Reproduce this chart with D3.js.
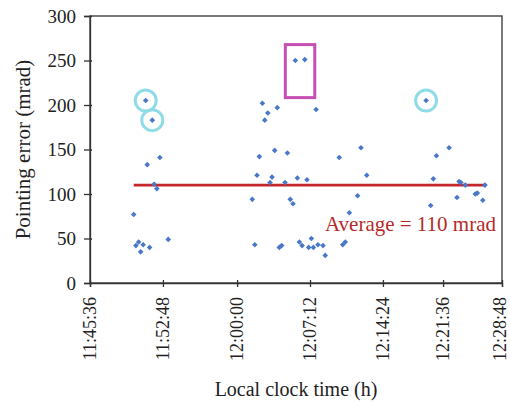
<!DOCTYPE html>
<html>
<head>
<meta charset="utf-8">
<script src="https://cdn.jsdelivr.net/npm/d3@7"></script>
<style>
  html, body { margin: 0; padding: 0; background: #fff; }
  svg { display: block; }
  text { font-family: "Liberation Serif", "DejaVu Serif", serif; fill: #222; }
</style>
</head>
<body>
<svg id="chart" width="510" height="402"></svg>
<script>
// local clock time of each sample
const times = [
  '11:49:55', '11:50:08', '11:50:24', '11:50:36', '11:50:51', '11:51:06', '11:51:15',
  '11:51:29', '11:51:45', '11:51:56', '11:52:12', '11:52:30', '11:53:19',
  '12:01:30', '12:01:45', '12:01:58', '12:02:12', '12:02:30', '12:02:44', '12:03:02',
  '12:03:15', '12:03:27', '12:03:43', '12:03:58', '12:04:10', '12:04:24', '12:04:44',
  '12:04:58', '12:05:15', '12:05:31', '12:05:45', '12:05:57', '12:06:09', '12:06:25',
  '12:06:41', '12:06:54', '12:07:04', '12:07:20', '12:07:32', '12:07:48', '12:07:59',
  '12:08:29', '12:08:42', '12:10:05', '12:10:26', '12:10:41', '12:11:05', '12:11:54',
  '12:12:14', '12:12:48',
  '12:19:34', '12:20:07', '12:20:26', '12:20:48', '12:22:20', '12:23:18', '12:23:33',
  '12:23:46', '12:24:19', '12:25:32', '12:25:47', '12:26:27', '12:26:43',
];

// pointing error (mrad)
const errors = [
  77, 42, 46, 35, 43, 205, 133,
  40, 183, 111, 106, 141, 49,
  94, 43, 121, 142, 202, 183, 191,
  113, 119, 149, 197, 40, 42, 113,
  146, 94, 89, 250, 118, 46, 42,
  251, 116, 40, 50, 40, 195, 43,
  42, 31, 141, 43, 46, 79, 98,
  152, 121,
  205, 87, 117, 143, 152, 96, 114,
  113, 110, 100, 101, 93, 110,
];

const xTickLabels = ['11:45:36', '11:52:48', '12:00:00', '12:07:12', '12:14:24', '12:21:36', '12:28:48'];
const yTicks = [0, 50, 100, 150, 200, 250, 300];
const average = 110;

// samples marked by the circles and by the box
const circled = ['11:51:06', '11:51:45', '12:19:34'];
const boxed = ['12:05:45', '12:06:41'];

const toSec = (s) => {
  const [h, m, sec] = s.split(':').map(Number);
  return h * 3600 + m * 60 + sec;
};

const points = times.map((t, i) => ({ t: toSec(t), label: t, v: errors[i] }));

const svg = d3.select('#chart');
const margin = { top: 16, right: 8, bottom: 119, left: 90 };
const width = 510 - margin.left - margin.right;
const height = 402 - margin.top - margin.bottom;

// the tick labels are not evenly spaced on the original axis
const tickFrac = [0, 0.177, 0.357, 0.534, 0.711, 0.857, 1];
const x = d3.scaleLinear()
  .domain(xTickLabels.map(toSec))
  .range(tickFrac.map((f) => f * width));
const y = d3.scaleLinear().domain([0, 300]).range([height, 0]);

const g = svg.append('g').attr('transform', `translate(${margin.left},${margin.top})`);

// frame
g.append('rect')
  .attr('width', width)
  .attr('height', height)
  .attr('fill', 'none')
  .attr('stroke', '#333')
  .attr('stroke-width', 1.3);

const yAxis = g.append('g')
  .call(d3.axisLeft(y).tickValues(yTicks).tickSize(6).tickPadding(8));
yAxis.select('.domain').attr('stroke', '#333').attr('stroke-width', 1.3);
yAxis.selectAll('.tick line').clone().attr('x2', 2);
yAxis.selectAll('.tick line').attr('stroke', '#333').attr('stroke-width', 1.3);
yAxis.selectAll('.tick text')
  .attr('font-family', '"Liberation Serif", serif')
  .attr('font-size', 19)
  .attr('fill', '#222');

const xAxis = g.append('g')
  .attr('transform', `translate(0,${height})`)
  .call(d3.axisBottom(x).tickValues(xTickLabels.map(toSec)).tickFormat((d, i) => xTickLabels[i]).tickSize(4));
xAxis.select('.domain').attr('stroke', '#333').attr('stroke-width', 1.3);
xAxis.selectAll('.tick line').clone().attr('y2', -3);
xAxis.selectAll('.tick line').attr('stroke', '#333').attr('stroke-width', 1.3);
xAxis.selectAll('.tick text')
  .attr('font-family', '"Liberation Serif", serif')
  .attr('font-size', 18)
  .attr('fill', '#222')
  .attr('text-anchor', 'end')
  .attr('dy', '0.3em')
  .attr('transform', (d, i) => `translate(${i === xTickLabels.length - 1 ? -2 : 0},14) rotate(-90)`)
  .attr('x', 0)
  .attr('y', 0);

// average line spans the sampled period
const [tMin, tMax] = d3.extent(points, (d) => d.t);
g.append('line')
  .attr('x1', x(tMin))
  .attr('x2', x(tMax))
  .attr('y1', y(average))
  .attr('y2', y(average))
  .attr('stroke', '#c4262b')
  .attr('stroke-width', 2.6);

g.append('g')
  .selectAll('path')
  .data(points)
  .join('path')
  .attr('d', d3.symbol(d3.symbolDiamond2, 20))
  .attr('transform', (d) => `translate(${x(d.t)},${y(d.v)})`)
  .attr('fill', '#4a78c8');

g.append('g')
  .selectAll('circle')
  .data(points.filter((d) => circled.includes(d.label)))
  .join('circle')
  .attr('cx', (d) => x(d.t))
  .attr('cy', (d) => y(d.v))
  .attr('r', 10.5)
  .attr('fill', 'none')
  .attr('stroke', '#8fdbe8')
  .attr('stroke-width', 3);

const boxPts = points.filter((d) => boxed.includes(d.label));
const bx0 = d3.min(boxPts, (d) => x(d.t)) - 10;
const bx1 = d3.max(boxPts, (d) => x(d.t)) + 10;
const by0 = d3.min(boxPts, (d) => y(d.v)) - 15;
g.append('rect')
  .attr('x', bx0)
  .attr('y', by0)
  .attr('width', bx1 - bx0)
  .attr('height', 53)
  .attr('fill', 'none')
  .attr('stroke', '#c64fb4')
  .attr('stroke-width', 3);

g.append('text')
  .attr('x', width - 6)
  .attr('y', y(average) + 46)
  .attr('text-anchor', 'end')
  .attr('font-size', 21)
  .style('fill', '#b52a2a')
  .text(`Average = ${average} mrad`);

svg.append('text')
  .attr('transform', `translate(30,${margin.top + height / 2}) rotate(-90)`)
  .attr('text-anchor', 'middle')
  .attr('font-size', 21)
  .text('Pointing error (mrad)');

svg.append('text')
  .attr('x', 296)
  .attr('y', 396)
  .attr('text-anchor', 'middle')
  .attr('font-size', 20)
  .text('Local clock time (h)');
</script>
</body>
</html>
